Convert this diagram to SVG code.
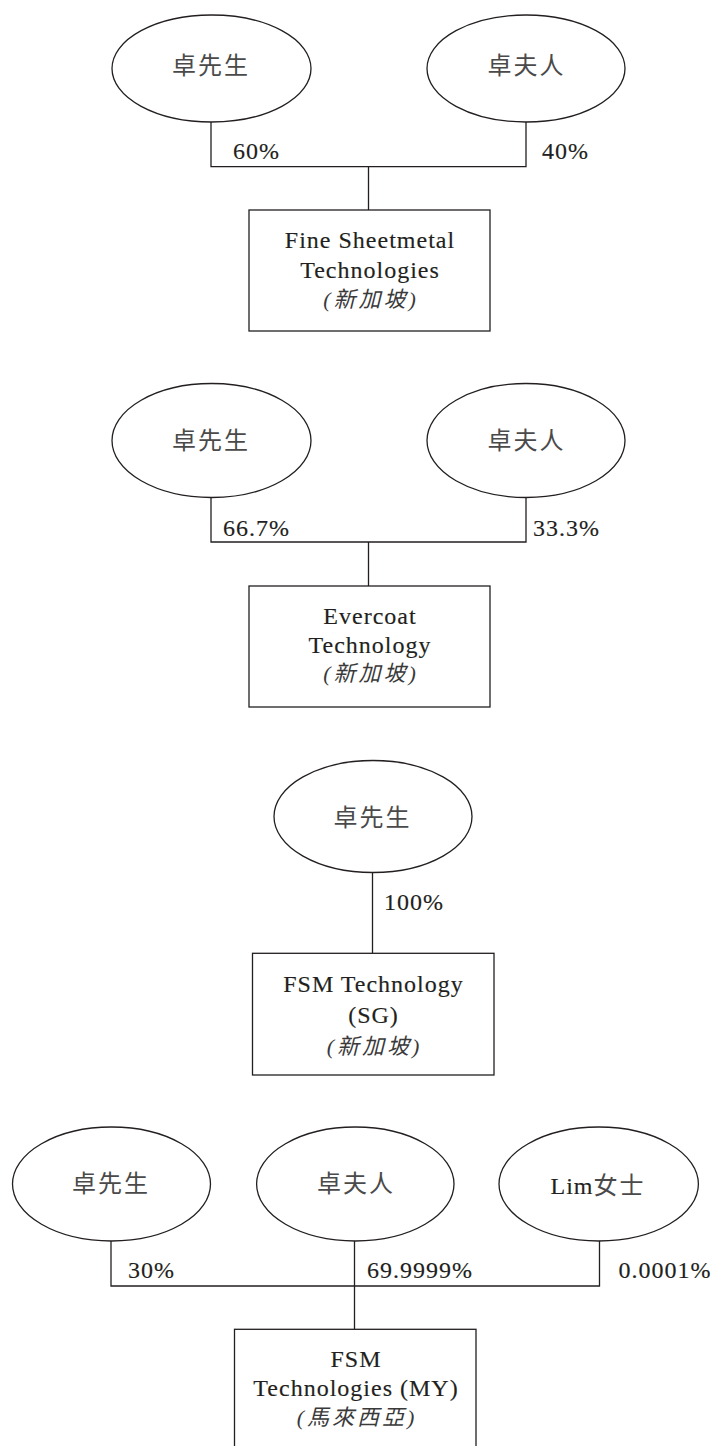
<svg xmlns="http://www.w3.org/2000/svg" width="715" height="1446" viewBox="0 0 715 1446">
<style>
.bg{fill:#ffffff}
.shape{fill:#ffffff;stroke:#231f20;stroke-width:1.3}
.conn{fill:none;stroke:#231f20;stroke-width:1.3}
.lat{font-family:"Liberation Serif","Noto Sans CJK TC",serif;font-size:24px;letter-spacing:1px;fill:#231f20;stroke:#231f20;stroke-width:0.15}
.mid{text-anchor:middle}
.cjk{font-family:"Noto Sans CJK TC","Noto Sans CJK SC",sans-serif;font-size:24px;letter-spacing:2px;fill:#4a4a4a;text-anchor:middle}
.cjkit{font-family:"Liberation Serif","Noto Sans CJK TC",serif;font-size:22px;font-style:italic;letter-spacing:3px;fill:#3a3a3a;text-anchor:middle}
.gray{font-family:"Noto Sans CJK TC",sans-serif;fill:#4a4a4a;stroke:none;letter-spacing:2px}
</style>
<rect class="bg" x="0" y="0" width="715" height="1446"/>

<g id="connectors">
  <path class="conn" d="M211,122 V166.7 H526 V122 M368.5,166.7 V210"/>
  <path class="conn" d="M211,498 V542 H526 V498 M368.5,542 V586"/>
  <path class="conn" d="M372.5,872 V953.3"/>
  <path class="conn" d="M111,1241 V1286 H599.5 V1241 M354.5,1241 V1329.3"/>
  <text class="lat" x="233" y="159">60%</text>
  <text class="lat" x="542" y="159">40%</text>
  <text class="lat" x="223" y="536">66.7%</text>
  <text class="lat" x="533" y="536">33.3%</text>
  <text class="lat" x="384" y="910">100%</text>
  <text class="lat" x="128" y="1278">30%</text>
  <text class="lat" x="367" y="1278">69.9999%</text>
  <text class="lat" x="618.5" y="1278">0.0001%</text>
</g>

<!-- Section 1 -->
<g id="s1-mr-cheuk">
  <ellipse class="shape" cx="211.5" cy="68.5" rx="99.5" ry="53.5"/>
  <text class="cjk" x="211" y="74">卓先生</text>
</g>
<g id="s1-mrs-cheuk">
  <ellipse class="shape" cx="526" cy="68.5" rx="99" ry="53.5"/>
  <text class="cjk" x="526.5" y="74">卓夫人</text>
</g>
<g id="s1-fine-sheetmetal">
  <rect class="shape" x="249" y="210" width="241" height="121"/>
  <text class="lat mid" x="370" y="248">Fine Sheetmetal</text>
  <text class="lat mid" x="370" y="278">Technologies</text>
  <text class="cjkit" x="371" y="306.5">(新加坡)</text>
</g>

<!-- Section 2 -->
<g id="s2-mr-cheuk">
  <ellipse class="shape" cx="211.5" cy="440.5" rx="99.5" ry="57"/>
  <text class="cjk" x="211" y="449">卓先生</text>
</g>
<g id="s2-mrs-cheuk">
  <ellipse class="shape" cx="526" cy="440.5" rx="99" ry="57"/>
  <text class="cjk" x="526.5" y="449">卓夫人</text>
</g>
<g id="s2-evercoat">
  <rect class="shape" x="249" y="586" width="241" height="121"/>
  <text class="lat mid" x="370" y="624">Evercoat</text>
  <text class="lat mid" x="370" y="653.3">Technology</text>
  <text class="cjkit" x="371" y="680.5">(新加坡)</text>
</g>

<!-- Section 3 -->
<g id="s3-mr-cheuk">
  <ellipse class="shape" cx="373" cy="816.5" rx="99" ry="56"/>
  <text class="cjk" x="372.5" y="825.5">卓先生</text>
</g>
<g id="s3-fsm-sg">
  <rect class="shape" x="252.5" y="953.3" width="241.5" height="121.7"/>
  <text class="lat mid" x="373.5" y="991.7">FSM Technology</text>
  <text class="lat mid" x="373.5" y="1023">(SG)</text>
  <text class="cjkit" x="374.5" y="1054">(新加坡)</text>
</g>

<!-- Section 4 -->
<g id="s4-mr-cheuk">
  <ellipse class="shape" cx="111.5" cy="1184" rx="99" ry="57"/>
  <text class="cjk" x="111" y="1192">卓先生</text>
</g>
<g id="s4-mrs-cheuk">
  <ellipse class="shape" cx="355.3" cy="1184" rx="98.7" ry="57"/>
  <text class="cjk" x="356" y="1192">卓夫人</text>
</g>
<g id="s4-ms-lim">
  <ellipse class="shape" cx="598.7" cy="1184" rx="99.7" ry="57"/>
  <text class="lat mid" x="598" y="1194">Lim<tspan class="gray">女士</tspan></text>
</g>
<g id="s4-fsm-my">
  <rect class="shape" x="234.5" y="1329.3" width="241.5" height="150"/>
  <text class="lat mid" x="356" y="1366.7">FSM</text>
  <text class="lat mid" x="356" y="1396">Technologies (MY)</text>
  <text class="cjkit" x="357" y="1425">(馬來西亞)</text>
</g>
</svg>
